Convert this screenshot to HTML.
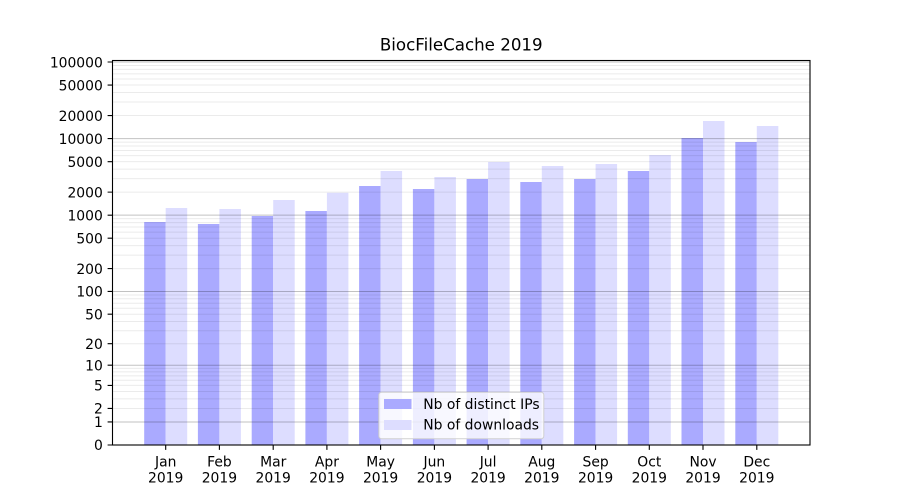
<!DOCTYPE html>
<html><head><meta charset="utf-8"><style>
html,body{margin:0;padding:0;background:#fff;}
svg{display:block;}
text{font-family:"DejaVu Sans","Liberation Sans",sans-serif;fill:#000;}
</style></head><body>
<svg width="900" height="500" viewBox="0 0 900 500" xmlns="http://www.w3.org/2000/svg">
<rect x="0" y="0" width="900" height="500" fill="#fff"/>
<text x="461.25" y="50.7" font-size="16.67" text-anchor="middle">BiocFileCache 2019</text>
<path fill="#aaaaff" d="M144.2 222H165.7V445H144.2Z M197.9 224H219.4V445H197.9Z M251.7 216H273.2V445H251.7Z M305.4 211H326.9V445H305.4Z M359.1 186H380.6V445H359.1Z M412.9 189H434.4V445H412.9Z M466.6 179H488.1V445H466.6Z M520.3 182H541.8V445H520.3Z M574.1 179H595.6V445H574.1Z M627.8 171H649.3V445H627.8Z M681.5 138H703V445H681.5Z M735.3 142H756.8V445H735.3Z"/>
<path fill="#ddddff" d="M165.7 208H187.2V445H165.7Z M219.4 209H240.9V445H219.4Z M273.2 200H294.7V445H273.2Z M326.9 192.7H348.4V445H326.9Z M380.6 171H402.1V445H380.6Z M434.4 177H455.9V445H434.4Z M488.1 162H509.6V445H488.1Z M541.8 166H563.3V445H541.8Z M595.6 164H617.1V445H595.6Z M649.3 155H670.8V445H649.3Z M703 121H724.5V445H703Z M756.8 126H778.3V445H756.8Z"/>
<path fill="none" stroke="#000" stroke-opacity="0.08" stroke-width="1" d="M112.5 408.45H810 M112.5 398.88H810 M112.5 391.46H810 M112.5 385.39H810 M112.5 380.27H810 M112.5 375.82H810 M112.5 371.91H810 M112.5 368.4H810 M112.5 343.72H810 M112.5 330.76H810 M112.5 321.46H810 M112.5 314.2H810 M112.5 308.24H810 M112.5 303.19H810 M112.5 298.81H810 M112.5 294.94H810 M112.5 268.57H810 M112.5 255.14H810 M112.5 245.6H810 M112.5 238.19H810 M112.5 232.14H810 M112.5 227.02H810 M112.5 222.58H810 M112.5 218.67H810 M112.5 192.12H810 M112.5 178.64H810 M112.5 169.07H810 M112.5 161.65H810 M112.5 155.59H810 M112.5 150.46H810 M112.5 146.02H810 M112.5 142.1H810 M112.5 115.54H810 M112.5 102.05H810 M112.5 92.48H810 M112.5 85.06H810 M112.5 78.99H810 M112.5 73.87H810 M112.5 69.42H810 M112.5 65.5H810"/>
<path fill="none" stroke="#000" stroke-opacity="0.24" stroke-width="1" d="M112.5 421.94H810 M112.5 365.23H810 M112.5 291.47H810 M112.5 215.17H810 M112.5 138.6H810 M112.5 62H810"/>
<rect x="112.5" y="60.5" width="697.5" height="384.5" fill="none" stroke="#000" stroke-width="1.1"/>
<path fill="none" stroke="#000" stroke-width="1.1" d="M107.6 445H112.5 M107.6 421.94H112.5 M107.6 408.45H112.5 M107.6 385.39H112.5 M107.6 365.23H112.5 M107.6 343.72H112.5 M107.6 314.2H112.5 M107.6 291.47H112.5 M107.6 268.57H112.5 M107.6 238.19H112.5 M107.6 215.17H112.5 M107.6 192.12H112.5 M107.6 161.65H112.5 M107.6 138.6H112.5 M107.6 115.54H112.5 M107.6 85.06H112.5 M107.6 62H112.5"/>
<path fill="none" stroke="#000" stroke-width="1.1" d="M165.7 445V449.9 M219.4 445V449.9 M273.2 445V449.9 M326.9 445V449.9 M380.6 445V449.9 M434.4 445V449.9 M488.1 445V449.9 M541.8 445V449.9 M595.6 445V449.9 M649.3 445V449.9 M703 445V449.9 M756.8 445V449.9"/>
<g font-size="13.89" text-anchor="end">
<text x="102.8" y="450.2">0</text>
<text x="102.8" y="427.2">1</text>
<text x="102.8" y="413.7">2</text>
<text x="102.8" y="390.6">5</text>
<text x="102.8" y="370.5">10</text>
<text x="102.8" y="349.0">20</text>
<text x="102.8" y="319.5">50</text>
<text x="102.8" y="296.7">100</text>
<text x="102.8" y="273.8">200</text>
<text x="102.8" y="243.4">500</text>
<text x="102.8" y="220.4">1000</text>
<text x="102.8" y="197.4">2000</text>
<text x="102.8" y="166.9">5000</text>
<text x="102.8" y="143.8">10000</text>
<text x="102.8" y="120.8">20000</text>
<text x="102.8" y="90.3">50000</text>
<text x="102.8" y="67.3">100000</text>
</g>
<g font-size="13.89" text-anchor="middle">
<text x="165.7" y="466.5">Jan</text>
<text x="219.4" y="466.5">Feb</text>
<text x="273.2" y="466.5">Mar</text>
<text x="326.9" y="466.5">Apr</text>
<text x="380.6" y="466.5">May</text>
<text x="434.4" y="466.5">Jun</text>
<text x="488.1" y="466.5">Jul</text>
<text x="541.8" y="466.5">Aug</text>
<text x="595.6" y="466.5">Sep</text>
<text x="649.3" y="466.5">Oct</text>
<text x="703.0" y="466.5">Nov</text>
<text x="756.8" y="466.5">Dec</text>
</g>
<g font-size="13.89" text-anchor="middle">
<text x="165.7" y="482.5">2019</text>
<text x="219.4" y="482.5">2019</text>
<text x="273.2" y="482.5">2019</text>
<text x="326.9" y="482.5">2019</text>
<text x="380.6" y="482.5">2019</text>
<text x="434.4" y="482.5">2019</text>
<text x="488.1" y="482.5">2019</text>
<text x="541.8" y="482.5">2019</text>
<text x="595.6" y="482.5">2019</text>
<text x="649.3" y="482.5">2019</text>
<text x="703.0" y="482.5">2019</text>
<text x="756.8" y="482.5">2019</text>
</g>
<rect x="378.8" y="392.2" width="165" height="46.6" rx="2.8" ry="2.8" fill="#fff" fill-opacity="0.8" stroke="#cccccc" stroke-opacity="0.9" stroke-width="1"/>
<rect x="384" y="399" width="27.5" height="10" fill="#aaaaff"/>
<rect x="384" y="420" width="27.5" height="10" fill="#ddddff"/>
<text x="423.3" y="409" font-size="13.89">Nb of distinct IPs</text>
<text x="423.3" y="429.5" font-size="13.89">Nb of downloads</text>
</svg>
</body></html>
